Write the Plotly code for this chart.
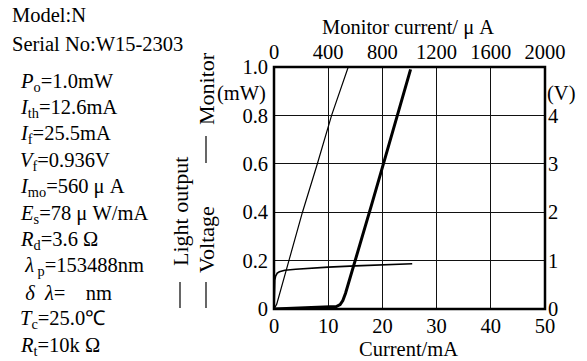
import plotly.graph_objects as go

# ---- data ----
current_light = [0, 5, 10, 11.5, 12.2, 12.7, 13.2, 13.8, 16, 18, 20, 22, 24, 25.2]
light_output = [0, 0.003, 0.007, 0.01, 0.018, 0.035, 0.065, 0.11, 0.275, 0.43, 0.585, 0.74, 0.895, 0.99]

monitor_current = [0, 20, 110, 210, 320, 425, 548]
monitor_light = [0, 0.02, 0.2, 0.4, 0.6, 0.8, 1.0]

current_voltage = [0, 0.05, 0.15, 0.3, 0.6, 1.0, 2, 4, 7, 10, 15, 20, 25.5]
voltage = [0, 0.4, 0.6, 0.68, 0.74, 0.77, 0.8, 0.82, 0.845, 0.865, 0.89, 0.912, 0.936]

x_ticks = [0, 10, 20, 30, 40, 50]
x2_ticks = [0, 400, 800, 1200, 1600, 2000]
y_ticks = [0, 0.2, 0.4, 0.6, 0.8, 1.0]
y_ticklabels = ["0", "0.2", "0.4", "0.6", "0.8", "1.0"]
y2_ticks = [0, 1, 2, 3, 4]

info_lines = [
    "<i>P</i><sub>o</sub>=1.0mW",
    "<i>I</i><sub>th</sub>=12.6mA",
    "<i>I</i><sub>f</sub>=25.5mA",
    "<i>V</i><sub>f</sub>=0.936V",
    "<i>I</i><sub>mo</sub>=560 μ A",
    "<i>E</i><sub>s</sub>=78 μ W/mA",
    "<i>R</i><sub>d</sub>=3.6 Ω",
    " <i>λ</i><sub> p</sub>=153488nm",
    " <i>δ  λ</i>=    nm",
    "<i>T</i><sub>c</sub>=25.0℃",
    "<i>R</i><sub>t</sub>=10k Ω",
]

W, H = 587, 361
L, R, T, B = 274, 545, 67, 309
FONT = "Liberation Serif"
FS = 20.5


def px(x):
    return (x - L) / (R - L)


def py(y):
    return (B - y) / (B - T)


fig = go.Figure()
fig.add_trace(go.Scatter(x=monitor_current, y=monitor_light, xaxis="x2", yaxis="y",
                         mode="lines", line=dict(color="black", width=1.2), showlegend=False))
fig.add_trace(go.Scatter(x=current_voltage, y=voltage, xaxis="x", yaxis="y2",
                         mode="lines", line=dict(color="black", width=1.6), showlegend=False))
fig.add_trace(go.Scatter(x=current_light, y=light_output, xaxis="x", yaxis="y",
                         mode="lines", line=dict(color="black", width=3), showlegend=False))

tickfont = dict(family=FONT, size=FS, color="black")
fig.update_layout(
    width=W, height=H,
    margin=dict(l=L, r=W - R, t=T, b=H - B),
    paper_bgcolor="white", plot_bgcolor="white",
    font=dict(family=FONT, size=FS, color="black"),
    xaxis=dict(range=[0, 50], tickvals=x_ticks, showgrid=True, gridcolor="#111", gridwidth=1,
               zeroline=False, showline=False, tickfont=tickfont, ticklabelstandoff=2),
    xaxis2=dict(range=[0, 2000], tickvals=x2_ticks, overlaying="x", side="top", showgrid=False,
                zeroline=False, showline=False, tickfont=tickfont, ticklabelstandoff=3),
    yaxis=dict(range=[0, 1.0], tickvals=y_ticks, ticktext=y_ticklabels, showgrid=True,
               gridcolor="#111", gridwidth=1, zeroline=False, showline=False, tickfont=tickfont,
               ticklabelstandoff=5),
    yaxis2=dict(range=[0, 5], tickvals=y2_ticks, overlaying="y", side="right", showgrid=False,
                zeroline=False, showline=False, tickfont=tickfont, ticklabelstandoff=2),
)

# border
fig.add_shape(type="rect", xref="paper", yref="paper", x0=0, x1=1, y0=0, y1=1,
              line=dict(color="black", width=2.5), layer="above")

ann = []


def text(x, y, s, xanchor="left", angle=0, size=FS):
    ann.append(dict(x=px(x), y=py(y), xref="paper", yref="paper", text=s, showarrow=False,
                    xanchor=xanchor, yanchor="middle", textangle=angle,
                    font=dict(family=FONT, size=size, color="black")))


text(10, 15, "Model:N")
text(10, 44, "Serial No:W15-2303")
for i, s in enumerate(info_lines):
    text(18, 82 + 26.4 * i, s)

text(408, 28, "Monitor current/ μ A", xanchor="center")
text(408, 349, "Current/mA", xanchor="center")
text(268, 93, "(mW)", xanchor="right")
text(545, 93, "(V)", xanchor="left")

text(206, 89, "Monitor", xanchor="center", angle=-90, size=22)
text(180, 212, "Light output", xanchor="center", angle=-90, size=22)
text(206, 240, "Voltage", xanchor="center", angle=-90, size=22)

for (x, y0, y1) in [(206, 136, 163), (180, 282, 308), (206, 282, 308)]:
    fig.add_shape(type="line", xref="paper", yref="paper", x0=px(x), x1=px(x),
                  y0=py(y0), y1=py(y1), line=dict(color="black", width=1.2))

fig.update_layout(annotations=ann)
fig.write_html("out.html", config={"displayModeBar": False},
               post_script="document.body.style.margin='0';document.body.style.overflow='hidden';")
